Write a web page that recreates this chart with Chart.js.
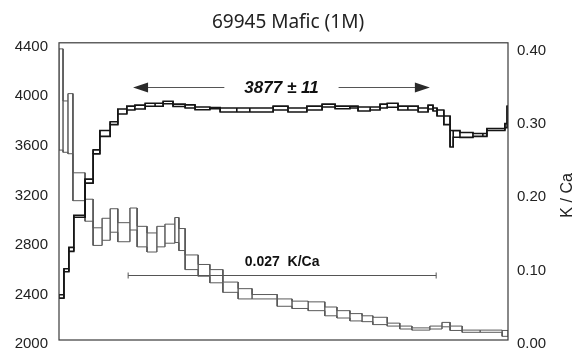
<!DOCTYPE html>
<html>
<head>
<meta charset="utf-8">
<title>69945 Mafic (1M)</title>
<script src="https://cdn.jsdelivr.net/npm/chart.js@4.4.1/dist/chart.umd.min.js"></script>
<style>
  html, body { margin: 0; padding: 0; background: #fff; }
</style>
</head>
<body>
<canvas id="chart" width="576" height="360"></canvas>
<script>
// step edges are cumulative % 39Ar released
const ageEdges = [0, 1.1, 2.2, 3.3, 5.8, 7.6, 9.1, 11.4, 13.1, 15.1, 16.9, 19.2, 21.4, 23.2, 25.4, 28.1,
  30.3, 33.6, 35.9, 39.6, 42.5, 47.7, 51.0, 55.2, 58.6, 61.5, 64.8, 66.6, 69.3, 71.5, 73.1, 75.5,
  77.7, 80.0, 82.2, 83.3, 84.2, 85.7, 87.1, 87.8, 89.3, 92.2, 94.4, 95.3, 99.3, 99.8, 100];
const ages = [2352, 2563, 2732, 2999, 3283, 3519, 3668, 3751, 3845, 3873, 3881, 3900, 3900, 3918, 3895,
  3886, 3870, 3873, 3857, 3857, 3857, 3873, 3857, 3873, 3893, 3878, 3881, 3865, 3869, 3889, 3896,
  3873, 3873, 3857, 3881, 3861, 3833, 3774, 3625, 3664, 3656, 3656, 3656, 3700, 3731, 3802];
const ageErr = [14, 12, 16, 8, 16, 16, 24, 12, 20, 16, 16, 12, 12, 10, 10, 13, 11, 5, 16, 16,
  16, 16, 16, 16, 12, 11, 8, 16, 12, 16, 16, 16, 16, 16, 16, 12, 24, 35, 67, 27, 20, 12, 12, 8, 16, 87];

const kcaEdges = [0, 0.9, 2.0, 3.1, 5.8, 7.6, 9.6, 11.4, 13.1, 15.8, 17.4, 19.6, 21.8, 23.6, 25.8, 26.7,
  28.1, 31.0, 33.6, 36.5, 39.9, 43.0, 48.6, 51.9, 55.5, 59.2, 61.9, 64.8, 67.5, 69.9, 73.1, 75.9,
  78.6, 82.6, 85.3, 87.1, 89.8, 93.8, 98.7, 100];
const kca = [0.328, 0.291, 0.295, 0.209, 0.177, 0.141, 0.151, 0.163, 0.147, 0.165, 0.141, 0.133, 0.141,
  0.145, 0.150, 0.137, 0.106, 0.095, 0.087, 0.072, 0.063, 0.059, 0.051, 0.048, 0.046, 0.039, 0.035,
  0.031, 0.029, 0.026, 0.021, 0.017, 0.015, 0.017, 0.021, 0.016, 0.012, 0.012, 0.009];
const kcaErr = [0.069, 0.035, 0.041, 0.019, 0.015, 0.012, 0.015, 0.016, 0.013, 0.015, 0.014, 0.013, 0.014,
  0.013, 0.017, 0.015, 0.010, 0.008, 0.009, 0.007, 0.007, 0.003, 0.005, 0.005, 0.006, 0.006, 0.005,
  0.005, 0.004, 0.005, 0.002, 0.002, 0.0015, 0.002, 0.003, 0.003, 0.0015, 0.0015, 0.004];

const ageTicks = [2000, 2400, 2800, 3200, 3600, 4000, 4400];
const kcaTicks = [0, 0.1, 0.2, 0.3, 0.4];

const plateauText = '3877 \u00b1 11';
const plateauSpan = [16.5, 82.6];
const plateauLevel = 4045;   // age where the arrow sits
const kcaText = '0.027  K/Ca';
const kcaSpan = [15.4, 84.0];
const kcaLevel = 0.089;

// box outlines: top/bottom envelopes + vertical sides
function envelope(edges, vals, errs, sign) {
  const pts = [];
  vals.forEach((v, i) => {
    const y = v + sign * errs[i];
    pts.push({ x: edges[i], y }, { x: edges[i + 1], y });
  });
  return pts;
}
function sides(edges, vals, errs) {
  const pts = [];
  vals.forEach((v, i) => {
    [edges[i], edges[i + 1]].forEach(x => {
      pts.push({ x, y: v - errs[i] }, { x, y: v + errs[i] }, { x, y: null });
    });
  });
  return pts;
}

function boxSets(edges, vals, errs, axis, color, width, order) {
  const base = { yAxisID: axis, showLine: true, pointRadius: 0, borderColor: color, borderWidth: width, order, spanGaps: false };
  return [
    { ...base, data: envelope(edges, vals, errs, 1) },
    { ...base, data: envelope(edges, vals, errs, -1) },
    { ...base, data: sides(edges, vals, errs) }
  ];
}

const frameAndNotes = {
  id: 'frameAndNotes',
  afterDatasetsDraw(chart) {
    const { ctx, chartArea: a, scales } = chart;
    const x = scales.x, yAge = scales.yAge, yK = scales.yK;
    ctx.save();
    ctx.strokeStyle = '#3a3a3a'; ctx.lineWidth = 1.2;
    ctx.strokeRect(a.left, a.top, a.width, a.height);

    // plateau arrow
    const py = Math.round(yAge.getPixelForValue(plateauLevel)) + 0.5;
    const px0 = x.getPixelForValue(plateauSpan[0]), px1 = x.getPixelForValue(plateauSpan[1]);
    const pmid = (px0 + px1) / 2;
    ctx.font = 'italic bold 17px "Liberation Sans", Arial, sans-serif';
    const gap = ctx.measureText(plateauText).width / 2 + 20;
    ctx.strokeStyle = '#555'; ctx.lineWidth = 1;
    ctx.beginPath();
    ctx.moveTo(px0 + 12, py); ctx.lineTo(pmid - gap, py);
    ctx.moveTo(pmid + gap, py); ctx.lineTo(px1 - 12, py);
    ctx.stroke();
    ctx.fillStyle = '#2a2a2a';
    [[px0, 1], [px1, -1]].forEach(([tip, d]) => {
      ctx.beginPath();
      ctx.moveTo(tip, py); ctx.lineTo(tip + d * 15, py - 5); ctx.lineTo(tip + d * 15, py + 5);
      ctx.closePath(); ctx.fill();
    });
    ctx.fillStyle = '#111'; ctx.textAlign = 'center'; ctx.textBaseline = 'middle';
    ctx.fillText(plateauText, pmid, py + 1);

    // mean K/Ca bar
    const ky = Math.round(yK.getPixelForValue(kcaLevel)) + 0.5;
    const kx0 = x.getPixelForValue(kcaSpan[0]), kx1 = x.getPixelForValue(kcaSpan[1]);
    ctx.strokeStyle = '#555'; ctx.lineWidth = 1;
    ctx.beginPath();
    ctx.moveTo(kx0, ky); ctx.lineTo(kx1, ky);
    ctx.moveTo(kx0, ky - 3); ctx.lineTo(kx0, ky + 3);
    ctx.moveTo(kx1, ky - 3); ctx.lineTo(kx1, ky + 3);
    ctx.stroke();
    ctx.font = 'bold 14px "Liberation Sans", Arial, sans-serif';
    ctx.fillStyle = '#111';
    ctx.fillText(kcaText, (kx0 + kx1) / 2, ky - 13);

    // right axis title, reads bottom to top
    ctx.translate(568, (a.top + a.bottom) / 2 + 4);
    ctx.rotate(-Math.PI / 2);
    ctx.font = '16px "Liberation Sans", Arial, sans-serif';
    ctx.fillStyle = '#222';
    ctx.fillText('K / Ca', 0, 0);
    ctx.restore();
  }
};

const tickFont = { family: '"Liberation Sans", Arial, sans-serif', size: 15 };

new Chart(document.getElementById('chart'), {
  type: 'scatter',
  data: {
    datasets: [
      ...boxSets(ageEdges, ages, ageErr, 'yAge', '#151515', 1.6, 0),
      ...boxSets(kcaEdges, kca, kcaErr, 'yK', '#5a5a5a', 1, 1)
    ]
  },
  options: {
    responsive: false,
    animation: false,
    devicePixelRatio: 1,
    layout: { padding: { left: 0, right: 0, top: 0, bottom: 12 } },
    plugins: {
      legend: { display: false },
      tooltip: { enabled: false },
      title: {
        display: true, text: '69945 Mafic (1M)', color: '#222',
        font: { family: '"Noto Sans", sans-serif', size: 19, weight: 'normal' },
        padding: { top: 11, bottom: 9 }
      }
    },
    scales: {
      x: { type: 'linear', min: 0, max: 100, display: false },
      yAge: {
        type: 'linear', position: 'left', min: 2000, max: 4400,
        grid: { display: false, drawTicks: false }, border: { display: false },
        afterBuildTicks: s => { s.ticks = ageTicks.map(v => ({ value: v })); },
        afterFit: s => { s.width = 59; },
        ticks: { font: tickFont, color: '#222', padding: 11, labelOffset: 4, callback: v => String(v) }
      },
      yK: {
        type: 'linear', position: 'right', min: 0, max: 0.4053,
        grid: { display: false, drawTicks: false }, border: { display: false },
        afterBuildTicks: s => { s.ticks = kcaTicks.map(v => ({ value: v })); },
        afterFit: s => { s.width = 68; },
        ticks: { font: tickFont, color: '#222', padding: 9, labelOffset: 4, callback: v => v.toFixed(2) }
      }
    }
  },
  plugins: [frameAndNotes]
});
</script>
</body>
</html>
